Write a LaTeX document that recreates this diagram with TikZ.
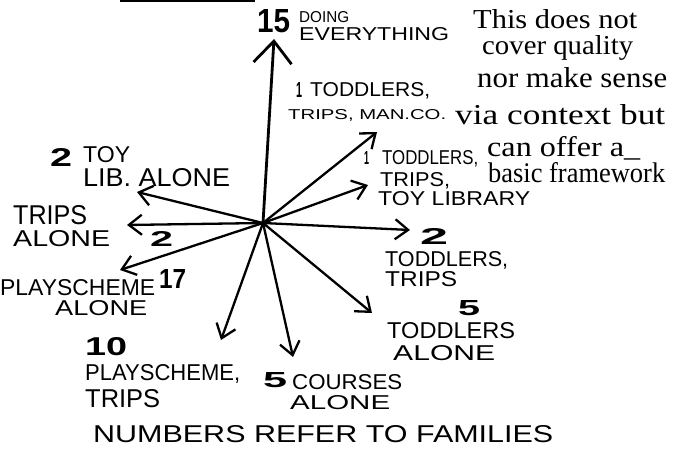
\documentclass[tikz,border=0pt]{standalone}
\usepackage{fontspec}
\usepackage{graphicx}
\setmainfont{Liberation Serif}
\newfontfamily\hand{Liberation Sans}
\usetikzlibrary{arrows.meta}
\newcommand\hw[3]{\resizebox{#1pt}{#2pt}{\hand #3}}
\newcommand\hb[3]{\resizebox{#1pt}{#2pt}{\hand\bfseries #3}}
\newcommand\tl[3]{\resizebox{#1pt}{#2pt}{#3}}
\begin{document}
\begin{tikzpicture}[x=1pt,y=-1pt,
  lbl/.style={inner sep=0pt, anchor=base west},
  ray/.style={line width=2.3pt, line cap=round, -{Straight Barb[length=13pt,width=20pt]}},
  bigray/.style={line width=2.8pt, line cap=round, -{Straight Barb[length=22pt,width=38pt]}}]
\useasboundingbox (0,0) rectangle (675,449);

% top bar (cut-off underline)
\coordinate (b1) at (120,1);
\coordinate (b2) at (255,1);
\draw[line width=3pt] (b1) -- (b2);

% centre and arrow ends
\coordinate (c) at (263,223);
\coordinate (e1) at (274,39);
\coordinate (e2) at (377,132);
\coordinate (e3) at (368,185);
\coordinate (e4) at (410,230);
\coordinate (e5) at (372,313);
\coordinate (e6) at (293,357);
\coordinate (e7) at (221,340);
\coordinate (e8) at (120,270);
\coordinate (e9) at (127,225);
\coordinate (e10) at (137,192);

\draw[bigray] (c) -- (e1);
\draw[ray] (c) -- (e2);
\draw[ray] (c) -- (e3);
\draw[ray] (c) -- (e4);
\draw[ray] (c) -- (e5);
\draw[ray] (c) -- (e6);
\draw[ray] (c) -- (e7);
\draw[ray] (c) -- (e8);
\draw[ray] (c) -- (e9);
\draw[ray] (c) -- (e10);

% numbers
\node[lbl] (n15) at (257,33) {\hb{33}{23}{15}};
\node[lbl] (n1a) at (296,98) {\hb{6}{15}{1}};
\node[lbl] (n1b) at (364,165) {\hb{5}{13}{1}};
\node[lbl] (n2r) at (420,245) {\hb{28}{16}{2}};
\node[lbl] (n5r) at (458,316) {\hb{22}{15}{5}};
\node[lbl] (n5c) at (263,387) {\hb{24}{15}{5}};
\node[lbl] (n10) at (85,355) {\hb{42}{18}{10}};
\node[lbl] (n17) at (159,288) {\hb{27}{19}{17}};
\node[lbl] (n2l) at (150,247) {\hb{23}{15}{2}};
\node[lbl] (n2t) at (50,167) {\hb{22}{18}{2}};

% handwritten labels
\node[lbl] (doing) at (299,23) {\hw{50}{11}{DOING}};
\node[lbl] (every) at (299,41) {\hw{150}{13}{EVERYTHING}};
\node[lbl] (tod1) at (310,97) {\hw{120}{14}{TODDLERS,}};
\node[lbl] (trips1) at (288,120) {\hw{158}{10}{TRIPS, MAN.CO.}};
\node[lbl] (tod2) at (382,165) {\hw{96}{14}{TODDLERS,}};
\node[lbl] (trips2) at (380,187) {\hw{70}{14}{TRIPS,}};
\node[lbl] (toylib) at (378,206) {\hw{152}{14}{TOY LIBRARY}};
\node[lbl] (tod3) at (385,267) {\hw{123}{15}{TODDLERS,}};
\node[lbl] (trips3) at (385,287) {\hw{72}{15}{TRIPS}};
\node[lbl] (tod4) at (387,338) {\hw{128}{16}{TODDLERS}};
\node[lbl] (alone4) at (393,360) {\hw{102}{15}{ALONE}};
\node[lbl] (courses) at (292,389) {\hw{110}{15}{COURSES}};
\node[lbl] (alone5) at (290,409) {\hw{100}{14}{ALONE}};
\node[lbl] (play2) at (85,380) {\hw{155}{16}{PLAYSCHEME,}};
\node[lbl] (trips4) at (85,407) {\hw{75}{18}{TRIPS}};
\node[lbl] (play1) at (0,295) {\hw{155}{16}{PLAYSCHEME}};
\node[lbl] (alone2) at (55,316) {\hw{92}{15}{ALONE}};
\node[lbl] (trips5) at (13,225) {\hw{74}{19}{TRIPS}};
\node[lbl] (alone3) at (13,247) {\hw{97}{16}{ALONE}};
\node[lbl] (toy) at (83,163) {\hw{47}{16}{TOY}};
\node[lbl] (lib) at (83,187) {\hw{147}{18}{LIB. ALONE}};
\node[lbl] (note) at (93,442) {\hw{460}{17}{NUMBERS REFER TO FAMILIES}};

% typed text
\node[lbl] (t1) at (473,29) {\tl{164}{19}{This does not}};
\node[lbl] (t2) at (482,55) {\tl{151}{19}{cover quality}};
\node[lbl] (t3) at (477,88) {\tl{190}{20}{nor make sense}};
\node[lbl] (t4) at (455,125) {\tl{210}{20}{via context but}};
\node[lbl] (t5) at (487,157) {\tl{153}{20}{can offer a\_}};
\node[lbl] (t6) at (488,183) {\tl{177}{20}{basic framework}};
\end{tikzpicture}
\end{document}
